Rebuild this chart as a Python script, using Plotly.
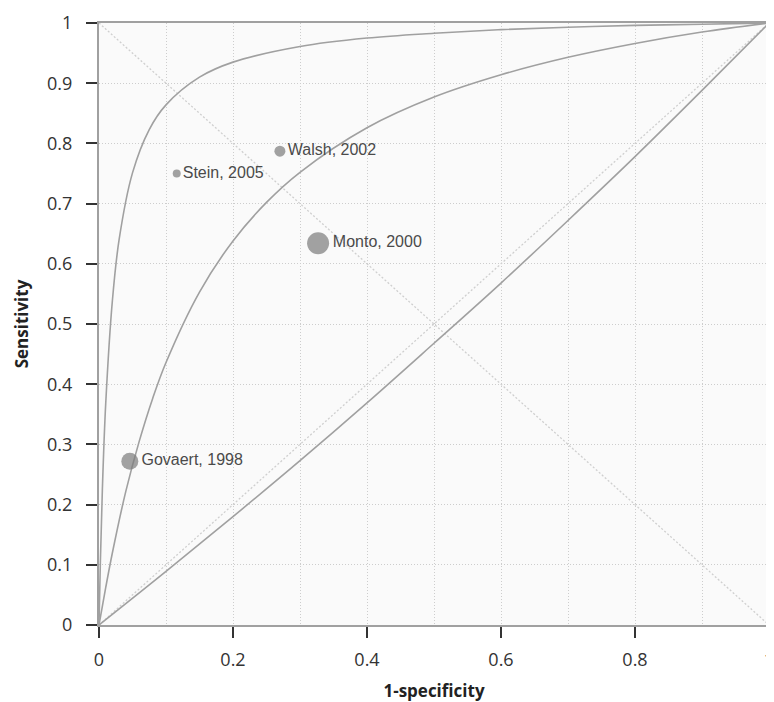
import plotly.graph_objects as go

# Study estimates (1-specificity, sensitivity) and marker sizes
studies = ["Stein, 2005", "Walsh, 2002", "Monto, 2000", "Govaert, 1998"]
study_fpr = [0.116, 0.270, 0.327, 0.046]
study_sens = [0.750, 0.787, 0.634, 0.272]
study_size = [8, 11, 22, 17]

# Outer SROC curve
outer_fpr = [0, 0.002, 0.005, 0.01, 0.02, 0.03, 0.05, 0.075, 0.1, 0.15, 0.2, 0.3, 0.4, 0.5, 0.6, 0.7, 0.8, 0.9, 1.0]
outer_sens = [0, 0.103, 0.224, 0.367, 0.539, 0.640, 0.751, 0.823, 0.864, 0.910, 0.935, 0.961, 0.975, 0.983, 0.989, 0.993, 0.996, 0.998, 1.0]

# Inner SROC curve
inner_fpr = [0, 0.01, 0.02, 0.04, 0.06, 0.08, 0.1, 0.15, 0.2, 0.25, 0.3, 0.4, 0.5, 0.6, 0.7, 0.8, 0.9, 1.0]
inner_sens = [0, 0.062, 0.120, 0.222, 0.305, 0.376, 0.436, 0.553, 0.638, 0.702, 0.752, 0.826, 0.877, 0.914, 0.943, 0.966, 0.985, 1.0]

# Lower curve (just under the chance line)
low_fpr = [0, 0.1, 0.2, 0.3, 0.4, 0.5, 0.6, 0.7, 0.8, 0.9, 1.0]
low_sens = [0, 0.089, 0.180, 0.273, 0.369, 0.468, 0.568, 0.672, 0.778, 0.888, 1.0]

# Reference lines
chance_x = [0, 1]
chance_y = [0, 1]
anti_x = [0, 1]
anti_y = [1, 0]

x_ticks = [0, 0.2, 0.4, 0.6, 0.8, 1]
x_ticktext = ["0", "0.2", "0.4", "0.6", "0.8", "1"]
y_ticks = [0, 0.1, 0.2, 0.3, 0.4, 0.5, 0.6, 0.7, 0.8, 0.9, 1]
y_ticktext = ["0", "0.1", "0.2", "0.3", "0.4", "0.5", "0.6", "0.7", "0.8", "0.9", "1"]

fig = go.Figure()

dot_col = "#cfcfcf"
grid_col = "#cdcdcd"
fig.add_trace(go.Scatter(x=anti_x, y=anti_y, mode="lines",
                         line=dict(color=dot_col, width=1.3, dash="2px,2px"), hoverinfo="skip"))
fig.add_trace(go.Scatter(x=chance_x, y=chance_y, mode="lines",
                         line=dict(color=dot_col, width=1.3, dash="2px,2px"), hoverinfo="skip"))

curve_col = "#a0a0a0"
for xs, ys in [(low_fpr, low_sens), (inner_fpr, inner_sens), (outer_fpr, outer_sens)]:
    fig.add_trace(go.Scatter(x=xs, y=ys, mode="lines", line_shape="spline",
                             line=dict(color=curve_col, width=1.6), hoverinfo="skip",
                             cliponaxis=False))

fig.add_trace(go.Scatter(
    x=study_fpr, y=study_sens, mode="markers+text",
    text=studies, textposition="middle right",
    textfont=dict(family="Liberation Sans, Arial, sans-serif", size=16, color="#4a4a4a"),
    marker=dict(size=study_size, color="#7a7a7a", line=dict(width=0)),
    cliponaxis=False))

tick_font = dict(family="Open Sans, sans-serif", size=18, color="#333333")
title_font = dict(family="Open Sans, sans-serif", size=17, color="#222222")

fig.update_layout(
    width=766, height=694,
    margin=dict(l=91, r=0, t=15, b=77),
    paper_bgcolor="white",
    plot_bgcolor="#fafafa",
    showlegend=False,
    xaxis=dict(
        range=[0, 1], tickvals=x_ticks, ticktext=x_ticktext,
        showgrid=True, gridcolor=grid_col, griddash="1px,2px", gridwidth=1,
        minor=dict(dtick=0.1, tick0=0, showgrid=True, gridcolor=grid_col, griddash="1px,2px", gridwidth=1),
        zeroline=False, showline=True, linecolor="#a0a0a0", linewidth=2, mirror=True,
        ticks="outside", ticklen=11, tickwidth=1.5, tickcolor="#333333",
        tickfont=tick_font, ticklabelstandoff=6, ticklabeloverflow="allow",
        title=dict(text="<b>1-specificity</b>", font=title_font, standoff=18),
    ),
    yaxis=dict(
        range=[0, 1], tickvals=y_ticks, ticktext=y_ticktext,
        showgrid=True, gridcolor=grid_col, griddash="1px,2px", gridwidth=1,
        zeroline=False, showline=True, linecolor="#a0a0a0", linewidth=2,
        ticks="outside", ticklen=11, tickwidth=1.5, tickcolor="#333333",
        tickfont=tick_font, ticklabelstandoff=10,
        title=dict(text="<b>Sensitivity</b>", font=title_font, standoff=14),
    ),
)

fig.write_html("out.html")
